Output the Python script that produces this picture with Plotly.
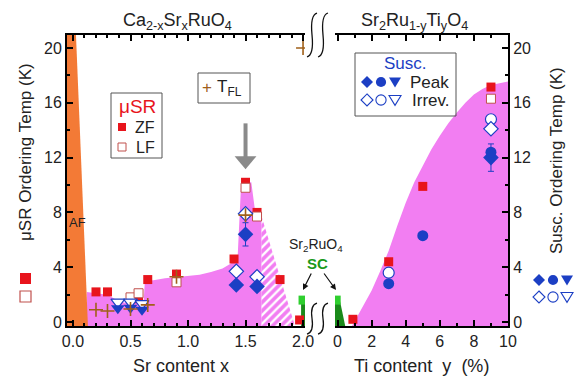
import plotly.graph_objects as go

# ---------------- data ----------------
# Ca2-xSrxRuO4 panel (x = Sr content)
zf_x = [0.2, 0.3, 0.57, 0.65, 0.9, 1.4, 1.5, 1.6, 1.8, 1.97]
zf_T = [2.2, 2.2, 1.7, 3.1, 3.5, 4.6, 10.2, 8.0, 3.1, 0.15]
lf_x = [0.5, 0.57, 0.9, 1.5, 1.6]
lf_T = [1.8, 2.1, 2.9, 9.8, 7.7]
tfl_x = [0.2, 0.3, 0.5, 0.65, 0.9, 1.5, 2.0]
tfl_T = [0.9, 0.8, 0.95, 1.25, 3.3, 7.8, 20.0]
tri_x = [0.39, 0.5, 0.6]
tri_peak = [1.0, 1.05, 0.9]
tri_irrev = [1.45, 1.45, 1.35]
dia_x = [1.42, 1.5, 1.6]
dia_peak = [2.7, 6.4, 2.6]
dia_peak_err = [0, 0.85, 0]
dia_irrev = [3.7, 7.9, 3.3]
sc_left_x = [2.0]
sc_left_T = [1.6]

# Sr2Ru1-yTiyO4 panel (y = Ti content, %)
zf2_y = [0.9, 3.0, 5.0, 9.0]
zf2_T = [0.2, 4.4, 9.9, 17.15]
lf2_y = [9.0]
lf2_T = [16.3]
circ_peak_y = [3.0, 5.0, 9.0]
circ_peak_T = [2.8, 6.3, 12.4]
circ_irrev_y = [3.0, 9.0]
circ_irrev_T = [3.6, 14.8]
dia2_y = [9.0]
dia2_peak = [12.0]
dia2_peak_err = [1.0]
dia2_irrev = [14.1]
sc_right_y = [-0.08]
sc_right_T = [1.6]

# phase regions
af_x = [-0.052, -0.052, 0.026, 0.13]
af_T = [-0.29, 20.95, 20.95, -0.29]
mag_x = [0.12, 0.12, 0.2, 0.3, 0.38, 0.45, 0.55, 0.615, 0.625, 0.7, 0.8, 0.9, 1.0, 1.1,
         1.2, 1.3, 1.38, 1.43, 1.46, 1.47, 1.55, 1.58, 1.64, 1.64]
mag_T = [-0.29, 2.2, 2.1, 2.0, 1.6, 1.4, 1.5, 1.6, 3.0, 3.05, 3.2, 3.3, 3.35, 3.45,
         3.65, 3.9, 4.3, 4.5, 9.8, 10.2, 10.2, 8.3, 7.7, -0.29]
hatch_x = [1.64, 1.64, 1.93]
hatch_T = [7.7, -0.29, -0.29]
scbar_left_x = [1.983, 1.983, 2.017, 2.017]
scbar_left_T = [-0.29, 1.5, 1.5, -0.29]
mag2_y = [0.85, 1.2, 1.6, 2.0, 2.5, 3.0, 3.5, 4.0, 4.5, 5.0, 5.5, 6.0, 6.5, 7.0, 7.5,
          8.0, 8.5, 9.0, 9.5, 10.0, 10.0]
mag2_T = [-0.29, 0.5, 1.4, 2.3, 3.7, 5.2, 7.0, 8.7, 10.2, 11.4, 12.6, 13.6, 14.5, 15.3,
          16.0, 16.6, 17.0, 17.3, 17.45, 17.55, -0.29]
scbar_right_y = [-0.15, -0.15, 0.15, 0.45]
scbar_right_T = [-0.29, 1.5, 1.5, -0.29]

# ---------------- styling ----------------
RED = "#e8141c"
LFC = "#c0504d"
BLUE = "#1c3fc4"
BROWN = "#a0601a"
MAG = "#f27ef2"
ORANGE = "#f37a36"
GREEN = "#2fcf2f"
DGREEN = "#1a8a1a"
FONT = "Arial, Liberation Sans, sans-serif"

L, R, T, B = 67, 508, 35, 326
def px(p):
    return (p - L) / (R - L)
def py(p):
    return (B - p) / (B - T)

fig = go.Figure()

def area(xs, ys, color, ax="x", ay="y", pattern=None):
    fig.add_trace(go.Scatter(x=xs, y=ys, fill="toself", fillcolor=color, mode="lines",
                             line=dict(width=0, color=color), xaxis=ax, yaxis=ay,
                             fillpattern=pattern, hoverinfo="skip"))

area(mag_x, mag_T, MAG)
area(hatch_x, hatch_T, MAG, pattern=dict(shape="/", fgcolor="white", bgcolor=MAG,
                                          size=6, solidity=0.4, fillmode="replace"))
area(af_x, af_T, ORANGE)
area(scbar_left_x, scbar_left_T, DGREEN)
area(mag2_y, mag2_T, MAG, "x2", "y2")
area(scbar_right_y, scbar_right_T, DGREEN, "x2", "y2")

def pts(xs, ys, symbol, size, color, fill=None, lw=1.0, ax="x", ay="y", err=None):
    fig.add_trace(go.Scatter(
        x=xs, y=ys, mode="markers", xaxis=ax, yaxis=ay,
        marker=dict(symbol=symbol, size=size, color=fill if fill else color,
                    line=dict(color=color, width=lw)),
        error_y=dict(type="data", array=err, color=color, thickness=1, width=3,
                     visible=True) if err else None))

# left panel markers
pts(sc_left_x, sc_left_T, "square", 9, GREEN, lw=0)
pts(zf_x, zf_T, "square", 9, RED, lw=0)
pts(lf_x, lf_T, "square", 9, LFC, fill="white", lw=1)
pts(tri_x, tri_irrev, "triangle-down", 12, BLUE, fill="white", lw=1.2)
pts(tri_x, tri_peak, "triangle-down", 12, BLUE, lw=0)
pts(dia_x, dia_irrev, "diamond", 11, BLUE, fill="white", lw=1.2)
pts(dia_x, dia_peak, "diamond", 12, BLUE, lw=0, err=dia_peak_err)
pts(tfl_x, tfl_T, "cross-thin", 10, BROWN, lw=1.6)

# right panel markers
pts(sc_right_y, sc_right_T, "square", 9, GREEN, lw=0, ax="x2", ay="y2")
pts(zf2_y, zf2_T, "square", 9, RED, lw=0, ax="x2", ay="y2")
pts(lf2_y, lf2_T, "square", 9, LFC, fill="white", lw=1, ax="x2", ay="y2")
pts(circ_irrev_y, circ_irrev_T, "circle", 11, BLUE, fill="white", lw=1.2, ax="x2", ay="y2")
pts(dia2_y, dia2_irrev, "diamond", 11, BLUE, fill="white", lw=1.2, ax="x2", ay="y2")
pts(dia2_y, dia2_peak, "diamond", 12, BLUE, lw=0, ax="x2", ay="y2", err=dia2_peak_err)
pts(circ_peak_y, circ_peak_T, "circle", 11, BLUE, lw=0, ax="x2", ay="y2")

axis_common = dict(ticks="inside", ticklen=6, tickwidth=1.5, tickcolor="black",
                   showline=True, linewidth=2, linecolor="black", showgrid=False,
                   zeroline=False, tickfont=dict(size=16, color="#222", family=FONT))

fig.update_layout(
    width=577, height=377, margin=dict(l=L, r=577 - R, t=T, b=377 - B),
    paper_bgcolor="white", plot_bgcolor="rgba(0,0,0,0)", showlegend=False,
    font=dict(family=FONT, color="#222"),
    xaxis=dict(domain=[0, px(305)], range=[-0.052, 2.017], tickvals=[0, 0.5, 1, 1.5, 2],
               ticktext=["0.0", "0.5", "1.0", "1.5", "2.0"], mirror="ticks", anchor="y",
               minor=dict(dtick=0.1, tick0=0, ticks="inside", ticklen=3, tickcolor="black",
                          showgrid=False), **axis_common),
    xaxis2=dict(domain=[px(335), 1], range=[-0.15, 10], tickvals=[0, 2, 4, 6, 8, 10],
                mirror="ticks", anchor="y2",
                minor=dict(dtick=1, tick0=0, ticks="inside", ticklen=3, tickcolor="black",
                           showgrid=False), **axis_common),
    yaxis=dict(range=[-0.29, 20.95], tickvals=[0, 4, 8, 12, 16, 20], anchor="x",
               minor=dict(dtick=2, tick0=0, ticks="inside", ticklen=3, tickcolor="black",
                          showgrid=False), **axis_common),
    yaxis2=dict(range=[-0.29, 20.95], tickvals=[0, 4, 8, 12, 16, 20], anchor="x2",
                side="right",
                minor=dict(dtick=2, tick0=0, ticks="inside", ticklen=3, tickcolor="black",
                           showgrid=False), **axis_common),
)

ann = []
def text(xp, yp, s, size=16, color="#222", angle=0, **kw):
    ann.append(dict(x=px(xp), y=py(yp), xref="paper", yref="paper", text=s,
                    showarrow=False, textangle=angle, xanchor="center", yanchor="middle",
                    font=dict(size=size, color=color, family=FONT), **kw))

text(177, 22, "Ca<sub>2-x</sub>Sr<sub>x</sub>RuO<sub>4</sub>", 18)
text(414, 22, "Sr<sub>2</sub>Ru<sub>1-y</sub>Ti<sub>y</sub>O<sub>4</sub>", 18)
text(181, 366, "Sr content x", 18)
text(421, 366, "Ti content  y  (%)", 18)
text(25, 152, "μSR Ordering Temp (K)", 17, angle=-90)
text(556, 161, "Susc. Ordering Temp (K)", 17, angle=-90)
text(77, 223, "AF", 13, "#222")
# muSR legend
text(137, 106, "μSR", 19, RED)
text(145, 127, "ZF", 16)
text(145, 147, "LF", 16)
# T_FL legend
text(207, 87, "+", 17, BROWN)
text(229, 88, "T<sub>FL</sub>", 17)
# Susc legend
text(405, 64, "Susc.", 17, BLUE)
text(429, 82, "Peak", 17)
text(430, 100, "Irrev.", 17)
# Sr2RuO4 SC
text(316, 245, "Sr<sub>2</sub>RuO<sub>4</sub>", 14)
text(317, 263, "<b>SC</b>", 15, "#1a9a1a")
for (tx, ty), (hx, hy) in [((312, 272), (303, 290)), ((323, 272), (336, 290))]:
    ann.append(dict(x=px(hx), y=py(hy), xref="paper", yref="paper", text="",
                    showarrow=True, ax=tx - hx, ay=ty - hy, arrowhead=2, arrowsize=1,
                    arrowwidth=1.2, arrowcolor="#111"))
fig.update_layout(annotations=ann)

shapes = []
def rect(x0, y0, x1, y1, line="#555", fill=None, lw=1):
    shapes.append(dict(type="rect", xref="paper", yref="paper", x0=px(x0), x1=px(x1),
                       y0=py(y0), y1=py(y1), line=dict(color=line, width=lw),
                       fillcolor=fill if fill else "rgba(0,0,0,0)", layer="above"))

def poly(points, filled, lw=1.1):
    p = "M " + " L ".join("{:.4f},{:.4f}".format(px(a), py(b)) for a, b in points) + " Z"
    shapes.append(dict(type="path", xref="paper", yref="paper", path=p, layer="above",
                       fillcolor=BLUE if filled else "white",
                       line=dict(color=BLUE, width=0 if filled else lw)))

def sym(kind, cx, cy, filled, s=6):
    if kind == "d":
        poly([(cx, cy - s), (cx + s, cy), (cx, cy + s), (cx - s, cy)], filled)
    elif kind == "t":
        poly([(cx - s, cy - s * 0.75), (cx + s, cy - s * 0.75), (cx, cy + s * 0.9)], filled)
    else:
        r = s * 0.85
        shapes.append(dict(type="circle", xref="paper", yref="paper", layer="above",
                           x0=px(cx - r), x1=px(cx + r), y0=py(cy + r), y1=py(cy - r),
                           fillcolor=BLUE if filled else "white",
                           line=dict(color=BLUE, width=0 if filled else 1.1)))

def symrow(cx, cy, filled, gap=14, s=6):
    sym("d", cx - gap, cy, filled, s)
    sym("c", cx, cy, filled, s)
    sym("t", cx + gap, cy, filled, s)

rect(111, 93, 162, 158)
rect(198, 73, 250, 103)
rect(355, 53, 456, 116)
rect(118, 123, 126, 131, line=RED, fill=RED, lw=0)
rect(118, 143, 126, 151, line=LFC, fill="white", lw=1)
rect(20, 273, 31, 284, line=RED, fill=RED, lw=0)
rect(20, 291, 31, 302, line=LFC, fill="white", lw=1.2)
symrow(381, 82, True)
symrow(381, 100, False)
symrow(553, 280, True)
symrow(553, 297, False)

# grey arrow (data coords of the left panel)
shapes.append(dict(type="line", xref="x", yref="y", x0=1.5, x1=1.5, y0=14.5, y1=12.0,
                   line=dict(color="#8a8a8a", width=4)))
shapes.append(dict(type="path", xref="x", yref="y",
                   path="M 1.405,12.1 L 1.595,12.1 L 1.5,11.15 Z",
                   fillcolor="#8a8a8a", line=dict(width=0)))

# axis break marks
def brk(x0, ytop, ybot):
    pts_ = [(x0 + 8, ytop), (x0 + 1, ytop + 2), (x0 + 3, (ytop + ybot) / 2),
            (x0 + 5, ybot - 2), (x0 - 2, ybot)]
    p = "M {:.4f},{:.4f} Q {:.4f},{:.4f} {:.4f},{:.4f} Q {:.4f},{:.4f} {:.4f},{:.4f}".format(
        px(pts_[0][0]), py(pts_[0][1]), px(pts_[1][0]), py(pts_[1][1]),
        px(pts_[2][0]), py(pts_[2][1]), px(pts_[3][0]), py(pts_[3][1]),
        px(pts_[4][0]), py(pts_[4][1]))
    shapes.append(dict(type="path", xref="paper", yref="paper", path=p,
                       line=dict(color="#111", width=1.3)))

for xx in (309, 320):
    brk(xx, 13, 57)
    brk(xx, 303, 334)

fig.update_layout(shapes=shapes)
fig.write_html("out.html", config={"displayModeBar": False},
               post_script="document.body.style.margin='0';"
               "document.body.style.overflow='hidden';")
